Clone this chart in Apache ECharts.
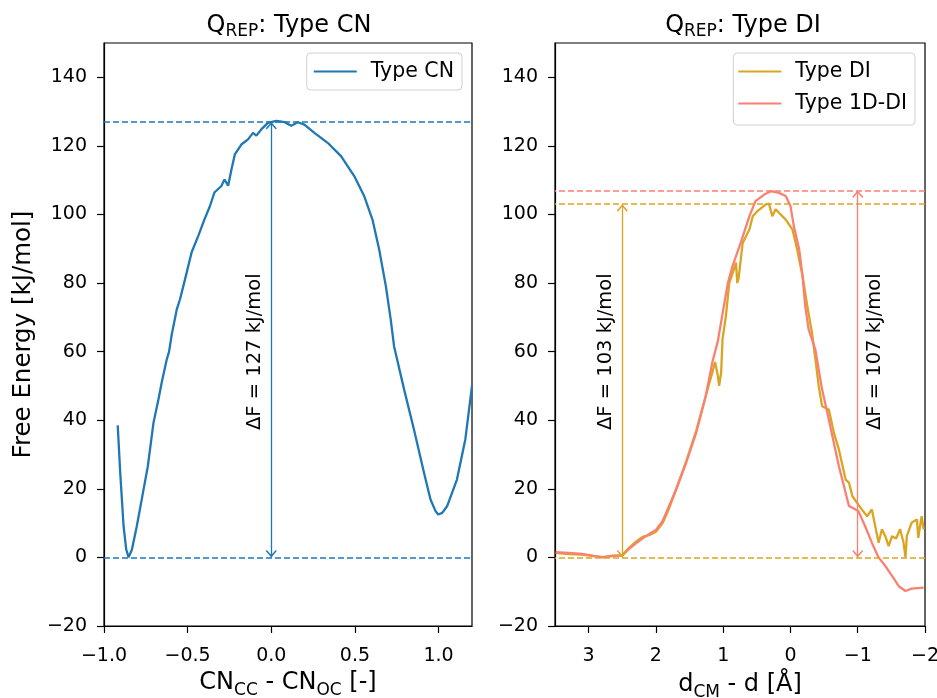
<!DOCTYPE html>
<html>
<head>
<meta charset="utf-8">
<script src="https://cdn.jsdelivr.net/npm/echarts@6/dist/echarts.min.js"></script>
<style>html,body{margin:0;padding:0;background:#fff}#c{width:937px;height:698px}</style>
</head>
<body>
<div id="c"></div>
<script>
// ---------- data ----------
const cnX = [-0.918,-0.903,-0.883,-0.867,-0.853,-0.833,-0.804,-0.774,-0.738,-0.704,-0.675,-0.655,-0.625,-0.611,-0.595,-0.565,-0.546,-0.516,-0.476,-0.437,-0.400,-0.367,-0.340,-0.298,-0.280,-0.258,-0.238,-0.218,-0.179,-0.139,-0.109,-0.089,-0.060,-0.020,0.030,0.080,0.119,0.159,0.198,0.258,0.337,0.417,0.496,0.556,0.605,0.645,0.685,0.714,0.734,0.794,0.853,0.913,0.952,0.982,0.998,1.022,1.052,1.110,1.160,1.200];
const cnY = [38.5,24.7,9.1,2.3,0.0,2.3,9.1,17.0,26.6,39.3,46.0,51.0,57.7,60.0,65.0,72.3,75.2,81.0,89.0,93.7,98.5,102.4,106.4,108.3,110.2,108.4,113.1,117.5,120.4,121.9,123.8,123.0,124.8,126.7,127.3,126.9,125.9,126.9,126.2,123.8,120.9,117.0,111.2,105.3,98.5,89.8,79.1,69.4,61.6,49.0,37.3,24.7,16.9,13.5,12.5,13.0,15.0,22.7,34.4,50.0];

const diX = [3.49,3.3,3.1,2.9,2.79,2.65,2.5,2.4,2.3,2.2,2.1,2.0,1.9,1.82,1.7,1.55,1.4,1.26,1.16,1.12,1.08,1.06,1.03,1.01,0.96,0.91,0.84,0.81,0.79,0.77,0.71,0.61,0.56,0.49,0.37,0.32,0.27,0.22,0.17,0.07,-0.03,-0.1,-0.18,-0.25,-0.32,-0.37,-0.42,-0.47,-0.53,-0.57,-0.65,-0.72,-0.82,-0.87,-0.92,-0.99,-1.06,-1.14,-1.21,-1.28,-1.31,-1.36,-1.41,-1.46,-1.51,-1.57,-1.63,-1.68,-1.71,-1.73,-1.8,-1.88,-1.9,-1.95,-1.98];
const diY = [1.3,1.0,0.8,0.3,0.0,0.5,0.6,2.8,4.5,6.0,6.5,7.5,10.0,13.5,19.8,28.0,37.0,47.0,54.0,57.0,53.0,50.0,54.0,63.6,70.3,80.0,84.0,86.0,80.0,81.5,91.7,95.6,99.5,101.0,102.9,103.2,99.5,101.5,100.5,98.5,95.6,89.8,82.0,73.3,65.5,58.0,50.0,44.1,43.5,43.1,36.0,31.5,22.7,21.8,17.9,15.9,14.0,12.0,14.0,7.2,4.3,8.2,6.2,3.3,6.2,5.5,8.2,4.4,0.0,6.2,10.1,11.1,5.7,12.0,8.2];

const d1X = [3.49,3.3,3.1,2.9,2.79,2.65,2.5,2.4,2.3,2.2,2.1,2.0,1.9,1.82,1.7,1.55,1.4,1.26,1.16,1.08,1.01,0.93,0.86,0.74,0.61,0.52,0.39,0.29,0.17,0.07,0.0,-0.05,-0.13,-0.18,-0.22,-0.27,-0.32,-0.37,-0.47,-0.57,-0.72,-0.87,-1.01,-1.11,-1.21,-1.31,-1.41,-1.51,-1.61,-1.71,-1.8,-1.98];
const d1Y = [1.5,1.3,1.0,0.4,0.1,0.4,0.6,2.5,4.0,5.5,6.8,8.0,10.6,14.3,19.8,27.6,36.4,47.0,57.0,63.0,71.0,80.0,85.0,91.7,99.5,103.9,105.8,106.8,106.3,105.4,102.5,96.6,89.8,82.0,73.3,66.5,63.6,60.6,49.0,40.2,26.6,15.0,13.5,9.1,4.3,0.0,-2.5,-5.4,-8.4,-9.8,-9.1,-8.8];

const dfCN = 127, dfDI = 103, df1D = 107;
const arrowXCN = 0, arrowXDI = 2.5, arrowX1D = -1;
const dfLabelY = 60;

const xTicksLeft = [-1.0,-0.5,0.0,0.5,1.0];
const xTicksRight = [3,2,1,0,-1,-2];
const yTicks = [-20,0,20,40,60,80,100,120,140];

// ---------- helpers ----------
const zip = (xs, ys) => xs.map((x, i) => [x, ys[i]]);
const minus = s => String(s).replace('-', '\u2212');
const FONT = 'DejaVu Sans';
const BLUE = '#1f77b4', GOLD = '#daa520', SALMON = '#fa8072';
const CHEV = 'path://M0,0 L6,6 L4.9,7.1 L0,2.2 L-4.9,7.1 L-6,6 Z M0,-7.1 L0.001,-7.1 Z';

function hline(v, color) {
  return { yAxis: v, symbol: 'none', lineStyle: { color: color, type: [6, 3], width: 1.5 }, label: { show: false } };
}
function arrow(x, top, color) {
  return [
    { coord: [x, 0], symbol: CHEV, symbolSize: [11, 15],
      lineStyle: { color: color, type: 'solid', width: 1.3 }, label: { show: false } },
    { coord: [x, top], symbol: CHEV, symbolSize: [11, 15] }
  ];
}
function dfLabel(x, text, dy) {
  return {
    symbol: 'circle', symbolSize: 0,
    data: [{ coord: [x, dfLabelY],
      label: { show: true, formatter: text, position: 'inside', rotate: 90, offset: [0, dy],
               color: '#000', fontSize: 19.5, fontFamily: FONT } }]
  };
}

function yAxisDef(idx, withName) {
  const a = {
    type: 'value', gridIndex: idx, min: -20, max: 150,
    axisLine: { show: true, onZero: false, lineStyle: { color: '#000', width: 1.2 } },
    axisTick: { show: true, length: 7, customValues: yTicks, lineStyle: { color: '#000', width: 1.2 } },
    axisLabel: { customValues: yTicks, margin: 17, fontSize: 19, fontFamily: FONT, color: '#000', formatter: v => minus(v) },
    splitLine: { show: false }
  };
  if (withName) {
    a.name = 'Free Energy [kJ/mol]';
    a.nameLocation = 'middle';
    a.nameGap = 68;
    a.nameTextStyle = { fontSize: 24.5, fontFamily: FONT, color: '#000' };
  }
  return a;
}

const titleRich = {
  q: { fontSize: 24, fontFamily: FONT, fontWeight: 'normal', color: '#000', verticalAlign: 'bottom' },
  s: { fontSize: 17, fontFamily: FONT, fontWeight: 'normal', color: '#000', verticalAlign: 'bottom', padding: [0, 0, -2, 0] }
};
const nameRich = {
  a: { fontSize: 24, fontFamily: FONT, color: '#000', verticalAlign: 'bottom' },
  b: { fontSize: 17, fontFamily: FONT, color: '#000', verticalAlign: 'bottom', padding: [0, 0, -4, 0] }
};
const legendText = { fontSize: 20.5, fontFamily: FONT, color: '#000', padding: [0, 0, 0, 9] };

const option = {
  animation: false,
  backgroundColor: '#fff',
  title: [
    { text: '{q|Q}{s|REP}{q|: Type CN}', left: 284, top: 9, textAlign: 'center', textStyle: { fontWeight: 'normal', rich: titleRich } },
    { text: '{q|Q}{s|REP}{q|: Type DI}', left: 738, top: 9, textAlign: 'center', textStyle: { fontWeight: 'normal', rich: titleRich } }
  ],
  legend: [
    { data: ['Type CN'], right: 475, top: 53, icon: 'rect', itemWidth: 43, itemHeight: 2.2,
      backgroundColor: '#fff', borderColor: '#d0d0d0', borderWidth: 1, borderRadius: 4,
      padding: [8, 8, 8, 7], textStyle: legendText },
    { data: ['Type DI', 'Type 1D-DI'], orient: 'vertical', right: 22, top: 53, icon: 'rect', itemWidth: 43, itemHeight: 2.2, itemGap: 11,
      backgroundColor: '#fff', borderColor: '#d0d0d0', borderWidth: 1, borderRadius: 4,
      padding: [8, 8, 11, 5], textStyle: legendText }
  ],
  grid: [
    { left: 104, right: 465, top: 43, bottom: 72, outerBoundsMode: 'none', containLabel: false,
      show: true, borderColor: '#000', borderWidth: 1.2, backgroundColor: 'transparent' },
    { left: 555, right: 12, top: 43, bottom: 72, outerBoundsMode: 'none', containLabel: false,
      show: true, borderColor: '#000', borderWidth: 1.2, backgroundColor: 'transparent' }
  ],
  xAxis: [
    { type: 'value', gridIndex: 0, min: -1.0, max: 1.2,
      name: '{a|CN}{b|CC}{a| - CN}{b|OC}{a| [-]}', nameLocation: 'middle', nameGap: 45,
      nameTextStyle: { rich: nameRich },
      axisLine: { show: true, onZero: false, lineStyle: { color: '#000', width: 1.2 } },
      axisTick: { show: true, length: 7, customValues: xTicksLeft, lineStyle: { color: '#000', width: 1.2 } },
      axisLabel: { customValues: xTicksLeft, margin: 21, fontSize: 19, fontFamily: FONT, color: '#000', formatter: v => minus(v.toFixed(1)) },
      splitLine: { show: false } },
    { type: 'value', gridIndex: 1, min: -2, max: 3.5, inverse: true,
      name: '{a|d}{b|CM}{a| - d [Å]}', nameLocation: 'middle', nameGap: 47,
      nameTextStyle: { rich: nameRich },
      axisLine: { show: true, onZero: false, lineStyle: { color: '#000', width: 1.2 } },
      axisTick: { show: true, length: 7, customValues: xTicksRight, lineStyle: { color: '#000', width: 1.2 } },
      axisLabel: { customValues: xTicksRight, margin: 21, fontSize: 19, fontFamily: FONT, color: '#000', formatter: v => minus(v) },
      splitLine: { show: false } }
  ],
  yAxis: [ yAxisDef(0, true), yAxisDef(1, false) ],
  series: [
    { name: 'Type CN', type: 'line', xAxisIndex: 0, yAxisIndex: 0, data: zip(cnX, cnY),
      showSymbol: false, symbol: 'none', lineStyle: { color: BLUE, width: 2.3 }, itemStyle: { color: BLUE },
      markLine: { silent: true, symbol: ['none', 'none'], animation: false,
        data: [ hline(dfCN, BLUE), hline(0, BLUE), arrow(arrowXCN, dfCN, BLUE) ] },
      markPoint: dfLabel(arrowXCN, '\u0394F = 127 kJ/mol', -16) },
    { name: 'Type DI', type: 'line', xAxisIndex: 1, yAxisIndex: 1, data: zip(diX, diY),
      showSymbol: false, symbol: 'none', lineStyle: { color: GOLD, width: 2.3 }, itemStyle: { color: GOLD },
      markLine: { silent: true, symbol: ['none', 'none'], animation: false,
        data: [ hline(dfDI, GOLD), hline(0, GOLD), arrow(arrowXDI, dfDI, GOLD) ] },
      markPoint: dfLabel(arrowXDI, '\u0394F = 103 kJ/mol', -16) },
    { name: 'Type 1D-DI', type: 'line', xAxisIndex: 1, yAxisIndex: 1, data: zip(d1X, d1Y),
      showSymbol: false, symbol: 'none', lineStyle: { color: SALMON, width: 2.3 }, itemStyle: { color: SALMON },
      markLine: { silent: true, symbol: ['none', 'none'], animation: false,
        data: [ hline(df1D, SALMON), arrow(arrowX1D, df1D, SALMON) ] },
      markPoint: dfLabel(arrowX1D, '\u0394F = 107 kJ/mol', 17) }
  ]
};

const chart = echarts.init(document.getElementById('c'), null, { renderer: 'canvas' });
chart.setOption(option);
</script>
</body>
</html>
